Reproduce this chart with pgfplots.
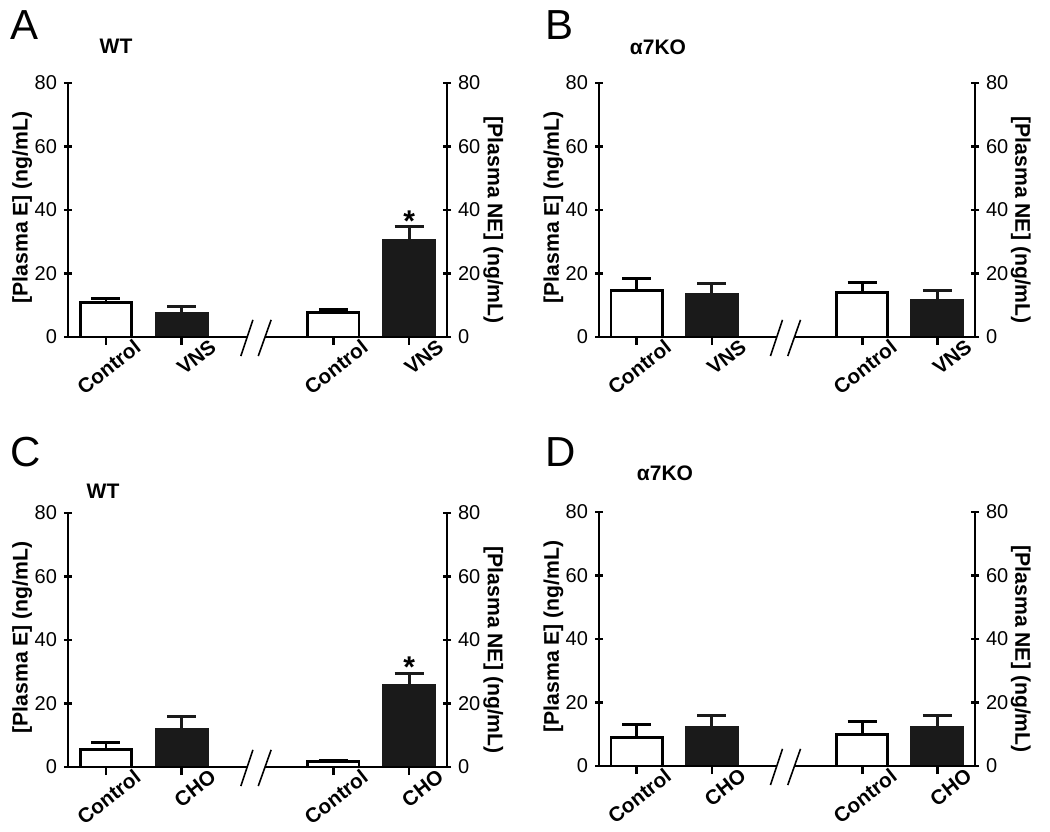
\documentclass[border=0pt]{standalone}
\usepackage{fontspec}
\setmainfont{Liberation Sans}
\usepackage{pgfplots}
\pgfplotsset{compat=1.18}
\definecolor{barblack}{HTML}{1A1A1A}
\pgfplotsset{
  common/.style={
    scale only axis, height=127pt,
    xmin=0, xmax=5, ymin=0, ymax=80,
    ytick={0,20,40,60,80},
    tick align=outside, major tick length=4pt,
    tick style={line width=1.3pt, black},
    yticklabel style={font=\fontsize{10}{10}\selectfont},
    /pgf/number format/assume math mode=true,
    clip=false,
  },
  leftpanel/.style={
    common,
    axis x line=bottom, axis y line=left,
    axis line style={-, line width=1.3pt},
    x axis line style={draw=none},
    xtick={0.5,1.5,3.5,4.5},
    xticklabel style={font=\bfseries\fontsize{10.3}{10}\selectfont, xshift=13.5pt, yshift=3.5pt, rotate=38, anchor=north east, inner sep=0pt},
    ylabel={[Plasma E] (ng/mL)},
    ylabel style={font=\bfseries\fontsize{10.6}{12}\selectfont, at={(axis description cs:-0.121,0.51)}, anchor=center},
    ybar, bar width=0.68, bar shift=0pt,
  },
  rightpanel/.style={
    common,
    axis x line=none, axis y line=right,
    axis line style={-, line width=1.3pt},
    ylabel={[Plasma NE] (ng/mL)},
    ylabel style={font=\bfseries\fontsize{10.6}{12}\selectfont, rotate=180, at={(axis description cs:1.122,0.46)}, anchor=center},
  },
  whitebar/.style={fill=white, draw=black, line width=1.4pt,
    error bars/.cd, y dir=plus, y explicit,
    error bar style={line width=1.4pt, black},
    error mark options={rotate=90, mark size=7.25pt, line width=1.4pt, black}},
  blackbar/.style={fill=barblack, draw=barblack, line width=1.4pt,
    error bars/.cd, y dir=plus, y explicit,
    error bar style={line width=1.4pt, barblack},
    error mark options={rotate=90, mark size=7.25pt, line width=1.4pt, barblack}},
}
\newcommand{\brk}{%
  \draw[line width=1.3pt] (axis cs:0,0) -- (axis cs:2.36,0);
  \draw[line width=1.3pt] (axis cs:2.6,0) -- (axis cs:5,0);
  \draw[line width=0.8pt] (axis cs:2.28,-6) -- (axis cs:2.44,5.4);
  \draw[line width=0.8pt] (axis cs:2.51,-6) -- (axis cs:2.68,5.4);
}
\begin{document}
\begin{tikzpicture}
\path[use as bounding box] (0,0) rectangle (525pt,415.5pt);

% Panel A
\begin{axis}[leftpanel, width=189.5pt, at={(34pt,247pt)}, anchor=south west,
  xticklabels={Control,VNS,Control,VNS}]
\addplot[whitebar] coordinates {(0.5,10.8) +- (0,1.3) (3.5,7.7) +- (0,1.0)};
\addplot[blackbar] coordinates {(1.5,7.4) +- (0,2.3) (4.5,30.5) +- (0,4.2)};
\brk
\node[anchor=south, inner sep=0pt, font=\bfseries\fontsize{15}{15}\selectfont, yshift=-2.5pt] at (axis cs:4.5,34.7) {*};
\end{axis}
\begin{axis}[rightpanel, width=189.5pt, at={(34pt,247pt)}, anchor=south west]
\end{axis}

% Panel B
\begin{axis}[leftpanel, width=188pt, at={(299.5pt,247pt)}, anchor=south west,
  xticklabels={Control,VNS,Control,VNS}]
\addplot[whitebar] coordinates {(0.5,14.6) +- (0,3.7) (3.5,14.1) +- (0,3.1)};
\addplot[blackbar] coordinates {(1.5,13.3) +- (0,3.5) (4.5,11.4) +- (0,3.3)};
\brk
\end{axis}
\begin{axis}[rightpanel, width=188pt, at={(299.5pt,247pt)}, anchor=south west]
\end{axis}

% Panel C
\begin{axis}[leftpanel, width=189.5pt, at={(34pt,32pt)}, anchor=south west,
  xticklabels={Control,CHO,Control,CHO}]
\addplot[whitebar] coordinates {(0.5,5.5) +- (0,2.3) (3.5,1.7) +- (0,0.3)};
\addplot[blackbar] coordinates {(1.5,12.0) +- (0,4.0) (4.5,25.6) +- (0,3.9)};
\brk
\node[anchor=south, inner sep=0pt, font=\bfseries\fontsize{15}{15}\selectfont, yshift=-2.5pt] at (axis cs:4.5,29.5) {*};
\end{axis}
\begin{axis}[rightpanel, width=189.5pt, at={(34pt,32pt)}, anchor=south west]
\end{axis}

% Panel D
\begin{axis}[leftpanel, width=188pt, at={(299.5pt,32.5pt)}, anchor=south west,
  xticklabels={Control,CHO,Control,CHO}]
\addplot[whitebar] coordinates {(0.5,9.05) +- (0,4.1) (3.5,10.0) +- (0,4.0)};
\addplot[blackbar] coordinates {(1.5,12.3) +- (0,3.5) (4.5,12.1) +- (0,3.8)};
\brk
\end{axis}
\begin{axis}[rightpanel, width=188pt, at={(299.5pt,32.5pt)}, anchor=south west]
\end{axis}

% Panel letters and titles
\node[anchor=north west, inner sep=0pt, font=\fontsize{21}{21}\selectfont] at (5pt,410.5pt) {A};
\node[anchor=north west, inner sep=0pt, font=\fontsize{21}{21}\selectfont] at (272.5pt,410.5pt) {B};
\node[anchor=north west, inner sep=0pt, font=\fontsize{21}{21}\selectfont] at (5pt,197pt) {C};
\node[anchor=north west, inner sep=0pt, font=\fontsize{21}{21}\selectfont] at (272.5pt,197pt) {D};
\node[font=\bfseries\fontsize{10.5}{12}\selectfont] at (58pt,392.5pt) {WT};
\node[font=\bfseries\fontsize{10.5}{12}\selectfont] at (329pt,392pt) {α7KO};
\node[font=\bfseries\fontsize{10.5}{12}\selectfont] at (51.5pt,170pt) {WT};
\node[font=\bfseries\fontsize{10.5}{12}\selectfont] at (332.5pt,179pt) {α7KO};
\end{tikzpicture}
\end{document}
